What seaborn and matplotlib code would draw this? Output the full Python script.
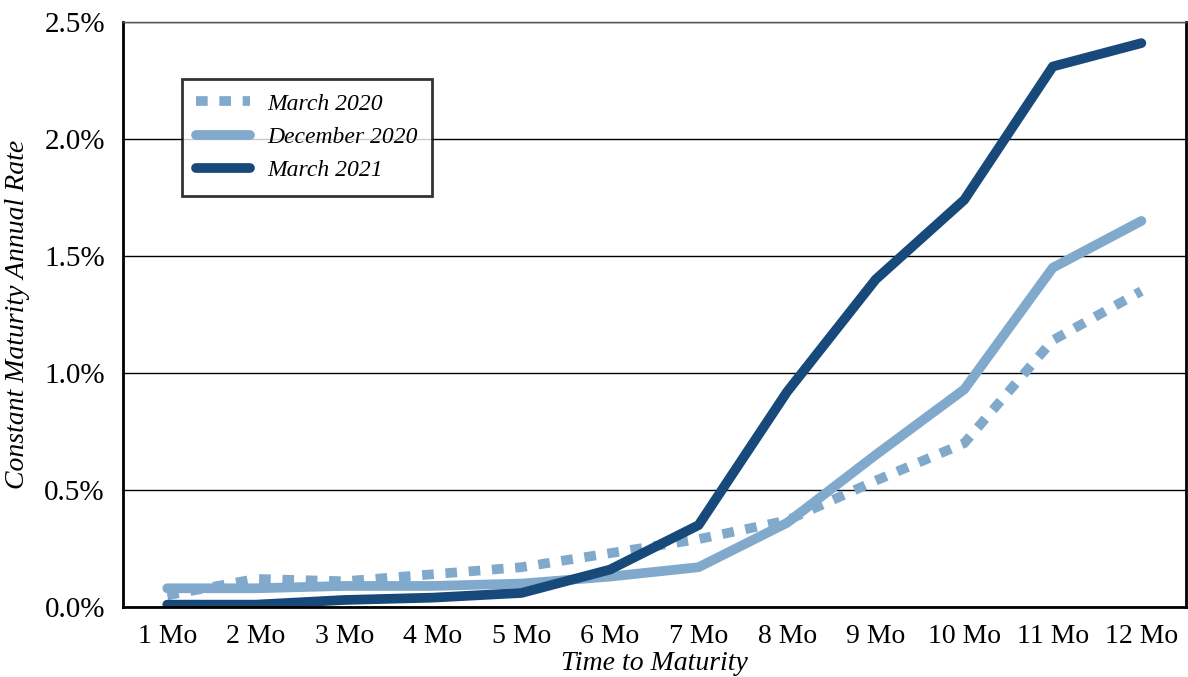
import matplotlib
matplotlib.use("Agg")
import matplotlib.pyplot as plt
import matplotlib.ticker as mtick
import pandas as pd
import seaborn as sns

# Treasury constant maturity rates, in percent
months = ["1 Mo", "2 Mo", "3 Mo", "4 Mo", "5 Mo", "6 Mo",
          "7 Mo", "8 Mo", "9 Mo", "10 Mo", "11 Mo", "12 Mo"]
mar_2020 = [0.05, 0.12, 0.11, 0.14, 0.17, 0.23, 0.29, 0.37, 0.54, 0.70, 1.14, 1.35]
dec_2020 = [0.08, 0.08, 0.09, 0.09, 0.10, 0.13, 0.17, 0.36, 0.65, 0.93, 1.45, 1.65]
mar_2021 = [0.01, 0.01, 0.03, 0.04, 0.06, 0.16, 0.35, 0.92, 1.40, 1.74, 2.31, 2.41]

series = ["March 2020", "December 2020", "March 2021"]
light = "#80a9cb"
dark = "#17497a"

sns.set_style("white")
plt.rcParams["font.family"] = ["Liberation Serif", "DejaVu Serif"]
for k in ["text.color", "axes.labelcolor", "xtick.color", "ytick.color"]:
    plt.rcParams[k] = "black"

fig = plt.figure(figsize=(11.88, 6.77), dpi=100)
ax = fig.add_axes([0.1035, 0.1034, 0.8945, 0.864])

lw = 7
sns.lineplot(x=months, y=mar_2020, ax=ax, color=light, lw=lw, sort=False,
             label=series[0], dashes=False)
ax.lines[-1].set_dashes((1.2, 1.2))
ax.lines[-1].set_dash_capstyle("butt")
sns.lineplot(x=months, y=dec_2020, ax=ax, color=light, lw=lw, sort=False,
             label=series[1], solid_capstyle="round")
sns.lineplot(x=months, y=mar_2021, ax=ax, color=dark, lw=lw, sort=False,
             label=series[2], solid_capstyle="round")

ax.set_xlim(-0.5, 11.5)
ax.set_ylim(0, 2.5)
ax.set_yticks([0, 0.5, 1.0, 1.5, 2.0, 2.5])
ax.yaxis.set_major_formatter(mtick.FuncFormatter(lambda v, p: "{:.1f}%".format(v)))
ax.grid(axis="y", color="black", lw=1)
ax.set_axisbelow(True)
ax.tick_params(axis="x", length=0, labelsize=20, pad=12)
ax.tick_params(axis="y", length=0, labelsize=21, pad=13)

for s in ["left", "bottom", "right"]:
    ax.spines[s].set_color("black")
    ax.spines[s].set_linewidth(2)
ax.spines["top"].set_color("#555555")
ax.spines["top"].set_linewidth(1)

ax.set_xlabel("Time to Maturity", fontsize=20, style="italic", labelpad=2)
ax.set_ylabel("Constant Maturity Annual Rate", fontsize=20, style="italic", labelpad=10)

leg = ax.legend(loc="upper left", bbox_to_anchor=(0.0555, 0.9026), borderaxespad=0,
                frameon=True, fancybox=False, prop={"style": "italic", "size": 17},
                handlelength=2.3, handletextpad=0.7, labelspacing=0.5, borderpad=0.6)
leg.get_frame().set_edgecolor("black")
leg.get_frame().set_linewidth(2)

fig.savefig("out.png", dpi=100)
